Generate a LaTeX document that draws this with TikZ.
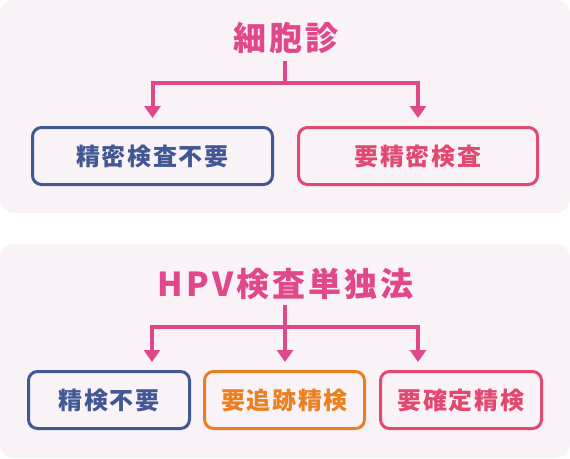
\documentclass[tikz,border=0pt]{standalone}
\usepackage{fontspec}
\newfontfamily\jptitle{Noto Sans CJK JP}[LetterSpace=9]
\newfontfamily\jpbox{Noto Sans CJK JP}[LetterSpace=7]
\usetikzlibrary{arrows.meta}
\definecolor{bgp}{RGB}{249,242,247}
\definecolor{ttl}{RGB}{224,72,138}
\definecolor{navy}{RGB}{66,88,148}
\definecolor{orng}{RGB}{235,128,32}
\definecolor{rpink}{RGB}{226,72,112}
\tikzset{
  panel/.style={fill=bgp, rounded corners=14pt},
  ttitle/.style={inner sep=0pt, text=ttl, font=\jptitle\bfseries\fontsize{#1}{#1}\selectfont},
  rbox/.style={draw=#1, text=#1, line width=3pt, rounded corners=9pt, inner sep=0pt,
     minimum height=57pt, font=\jpbox\bfseries\fontsize{24}{24}\selectfont},
  conn/.style={draw=ttl, line width=4pt},
  arr/.style={conn, shorten >=8pt, -{Triangle[width=16pt,length=12pt]}}
}
\begin{document}
\begin{tikzpicture}[x=1pt,y=-1pt]
\useasboundingbox (0,0) rectangle (570,458);
\path[panel] (0,0) rectangle (570,213);
\path[panel] (0,244) rectangle (570,458);

% top
\node[ttitle=33] (t1) at (286,38) {細胞診};
\node[rbox=navy, minimum width=240pt] (b1) at (152.5,156) {精密検査不要};
\node[rbox=rpink, minimum width=239pt] (b2) at (418,156) {要精密検査};
\coordinate (s1) at (285,61);
\coordinate (j1) at (285,83);
\draw[conn] (s1) -- (j1);
\draw[arr] (j1) -| (b1.north);
\draw[arr] (j1) -| (b2.north);

% bottom
\node[ttitle=33, anchor=base] (t2) at (285.5,296) {HPV検査単独法};
\node[rbox=navy, minimum width=161pt] (c1) at (109,400) {精検不要};
\node[rbox=orng, minimum width=160pt] (c2) at (284.5,400) {要追跡精検};
\node[rbox=rpink, minimum width=161pt] (c3) at (461,400) {要確定精検};
\coordinate (s2) at (285,305);
\coordinate (j2) at (285,327);
\draw[conn] (s2) -- (j2);
\draw[arr] (j2) -| ([xshift=43pt]c1.north);
\draw[arr] (s2) -- (s2 |- c2.north);
\draw[arr] (j2) -| ([xshift=-43pt]c3.north);
\end{tikzpicture}
\end{document}
